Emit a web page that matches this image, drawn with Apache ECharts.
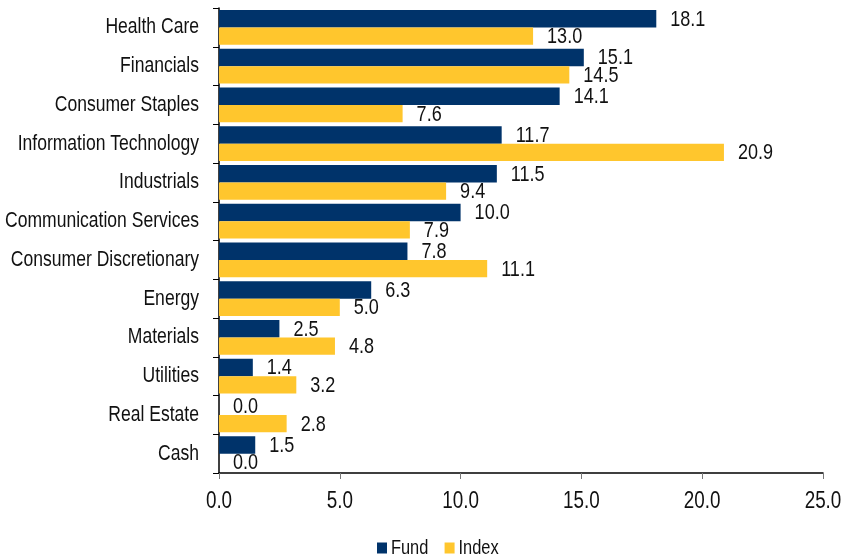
<!DOCTYPE html>
<html><head><meta charset="utf-8">
<script src="https://cdn.jsdelivr.net/npm/echarts@6/dist/echarts.min.js"></script>
<style>html,body{margin:0;padding:0;background:#fff}#c{width:846px;height:558px}</style>
</head><body><div id="c"></div>
<script>
const categories = ["Health Care","Financials","Consumer Staples","Information Technology","Industrials","Communication Services","Consumer Discretionary","Energy","Materials","Utilities","Real Estate","Cash"];
const fundValues = [18.1,15.1,14.1,11.7,11.5,10.0,7.8,6.3,2.5,1.4,0.0,1.5];
const indexValues = [13.0,14.5,7.6,20.9,9.4,7.9,11.1,5.0,4.8,3.2,2.8,0.0];
const xTicks = [0,5,10,15,20,25];
const seriesNames = ["Fund","Index"];

const font = "'Liberation Sans', Arial, sans-serif";
const NARROW = 0.82; // emulate a condensed (Arial Narrow-like) face
const chart = echarts.init(document.getElementById('c'), null, {renderer:'canvas'});
const lbl = {show:true, position:'right', distance:14, offset:[0,1], color:'#111', fontSize:22, fontFamily:font, formatter:p=>p.value.toFixed(1)};
chart.setOption({
  animation:false,
  grid:{left:219, right:23, top:8, bottom:85, outerBoundsMode:'none', containLabel:false},
  legend:{data:seriesNames, left:372, top:533, itemWidth:10, itemHeight:11, itemGap:5, icon:'rect',
    textStyle:{fontSize:20, fontFamily:font, color:'#111', padding:[0,0,0,2]}},
  xAxis:{type:'value', min:xTicks[0], max:xTicks[xTicks.length-1], interval:5,
    axisLine:{show:true, lineStyle:{color:'#000', width:1.5}},
    axisTick:{show:true, length:6, lineStyle:{color:'#777'}},
    splitLine:{show:false},
    axisLabel:{formatter:v=>v.toFixed(1), fontSize:23, fontFamily:font, color:'#111', margin:17}},
  yAxis:{type:'category', data:categories, inverse:true,
    axisLine:{show:true, lineStyle:{color:'#000', width:1.5}},
    axisTick:{show:true, length:6, lineStyle:{color:'#000'}},
    axisLabel:{fontSize:21.4, fontFamily:font, color:'#111', margin:20}},
  series:[
    {name:seriesNames[0], type:'bar', data:fundValues, barWidth:17.4, barGap:'0%', itemStyle:{color:'#00336A'}, label:lbl},
    {name:seriesNames[1], type:'bar', data:indexValues, barWidth:17.4, barGap:'0%', itemStyle:{color:'#FFC62D'}, label:lbl}
  ]
});

// Horizontally condense every text element (no narrow font is installed).
(function condense(){
  const zr = chart.getZr();
  const seen = new Set();
  function visit(el){
    if (!el || seen.has(el)) return;
    seen.add(el);
    if (el.type === 'text') { el.scaleX = NARROW; el.markRedraw && el.markRedraw(); }
    if (el.getTextContent) visit(el.getTextContent());
    if (el.isGroup && el.childrenRef) el.childrenRef().forEach(visit);
  }
  zr.storage.getRoots().forEach(visit);
  zr.refresh();
})();
</script></body></html>
